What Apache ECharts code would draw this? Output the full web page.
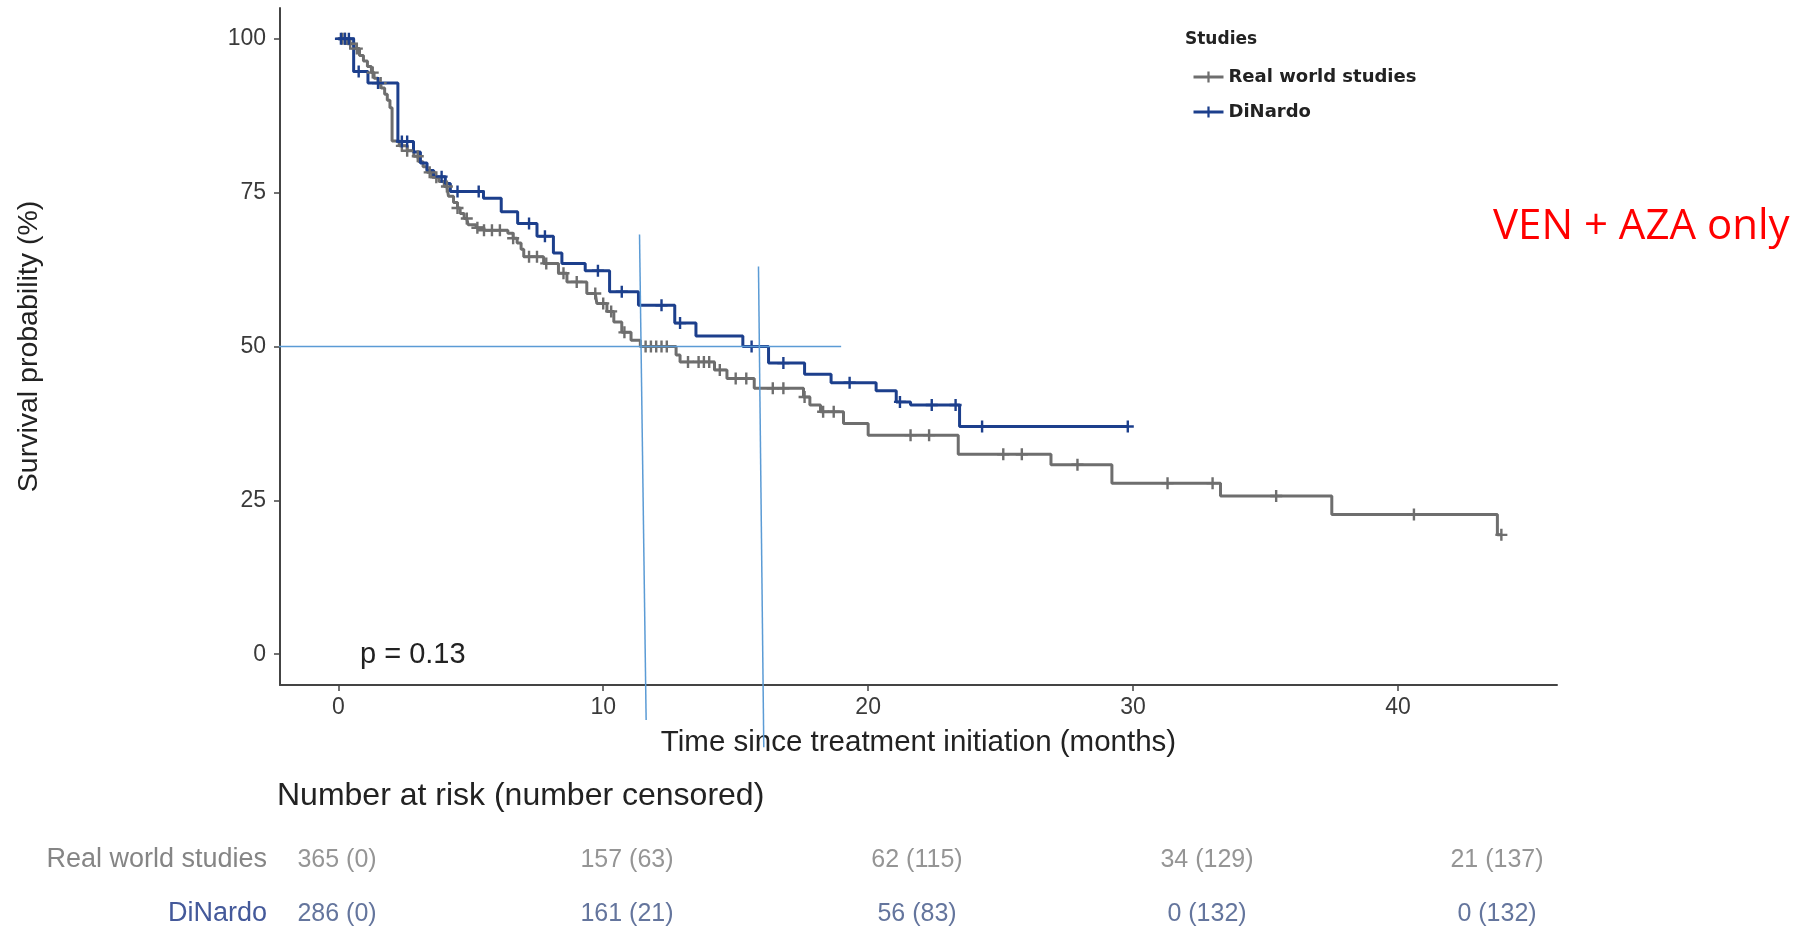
<!DOCTYPE html>
<html>
<head>
<meta charset="utf-8">
<title>VEN + AZA only</title>
<script src="https://cdn.jsdelivr.net/npm/echarts@6/dist/echarts.min.js"></script>
<style>
  html, body { margin: 0; padding: 0; background: #fff; }
  #chart { width: 1807px; height: 932px; }
</style>
</head>
<body>
<div id="chart"></div>
<script>
  // Real world studies: event times (months) and survival (%) after each event
  var rwTimes = [0, 0.35, 0.6, 0.8, 0.95, 1.1, 1.25, 1.35, 1.5, 1.62, 1.75, 1.85, 1.95, 2.03, 2.3, 2.6, 2.85, 3.05, 3.2, 3.35, 3.55, 3.8, 4.0, 4.16, 4.35, 4.5, 4.6, 4.75, 4.9, 5.2, 5.5, 6.4, 6.6, 6.75, 6.9, 7.0, 7.75, 8.31, 8.63, 9.38, 9.76, 10.14, 10.4, 10.7, 11.05, 11.4, 12.75, 12.9, 14.2, 14.67, 15.7, 17.56, 17.8, 18.2, 19.07, 20.0, 23.4, 26.9, 29.2, 33.3, 37.5, 43.75];
  var rwSurv = [100, 99.2, 98.4, 97.3, 96.4, 95.5, 94.5, 93.6, 92.8, 92.0, 91.0, 90.0, 88.8, 83.4, 82.6, 81.8, 80.9, 80.0, 79.2, 78.3, 77.5, 76.8, 76.0, 74.4, 73.4, 72.5, 71.6, 70.8, 69.8, 69.3, 68.9, 68.4, 67.6, 66.8, 65.8, 64.6, 63.5, 61.9, 60.5, 58.6, 57.0, 55.7, 54.0, 52.3, 51.0, 50.0, 48.6, 47.5, 46.2, 44.8, 43.2, 41.8, 40.5, 39.4, 37.5, 35.6, 32.5, 30.8, 27.8, 25.7, 22.7, 19.4];
  var rwCensor = [0.15, 0.25, 0.45, 0.7, 1.3, 1.6, 2.4, 2.6, 3.0, 3.45, 3.7, 4.1, 4.5, 4.85, 5.25, 5.5, 5.8, 6.1, 6.6, 7.2, 7.5, 7.85, 8.5, 9.0, 9.7, 10.0, 10.3, 10.8, 11.6, 11.8, 12.0, 12.2, 12.4, 13.2, 13.6, 13.8, 14.0, 14.4, 15.0, 15.4, 16.4, 16.8, 17.6, 18.3, 18.7, 21.6, 22.3, 25.1, 25.8, 27.9, 31.3, 33.0, 35.4, 40.6, 43.9];

  // DiNardo
  var dnTimes = [0, 0.58, 1.12, 2.25, 2.84, 3.1, 3.35, 3.6, 4.04, 4.23, 5.48, 6.15, 6.77, 7.5, 8.12, 8.44, 9.32, 10.24, 11.33, 12.7, 13.5, 15.27, 16.24, 17.6, 18.6, 20.3, 21.06, 21.6, 23.45];
  var dnSurv = [100, 94.7, 92.8, 83.3, 81.6, 79.8, 78.6, 77.6, 76.5, 75.2, 74.1, 71.9, 70.0, 67.9, 65.2, 63.5, 62.3, 58.9, 56.7, 53.8, 51.7, 50.0, 47.3, 45.5, 44.1, 42.8, 41.0, 40.5, 37.0];
  var dnCensor = [0.1, 0.25, 0.4, 0.77, 1.5, 2.4, 2.6, 3.9, 4.5, 5.3, 7.2, 7.8, 9.8, 10.7, 12.2, 12.9, 15.6, 16.8, 19.3, 21.2, 22.4, 23.3, 24.3, 29.8];

  // axis ticks
  var xTicks = [0, 10, 20, 30, 40];
  var yTicks = [0, 25, 50, 75, 100];

  // number at risk table
  var riskRows = ['Real world studies', 'DiNardo'];
  var riskTimes = [0, 10, 20, 30, 40];
  var rwAtRisk = [365, 157, 62, 34, 21];
  var rwCensored = [0, 63, 115, 129, 137];
  var dnAtRisk = [286, 161, 56, 0, 0];
  var dnCensored = [0, 21, 83, 132, 132];

  // hand-drawn median guide lines (data coords)
  var guideH = [[-3.96, 50], [18.98, 50]];
  var guideV1 = [[11.37, 68.2], [11.62, -10.7]];
  var guideV2 = [[15.86, 63.0], [16.06, -15.1]];

  var FONT = '"Liberation Sans", Arial, sans-serif';
  var grayCol = '#6e6e6e';
  var blueCol = '#1c3f8c';
  var plus = 'path://M4,0H6V4H10V6H6V10H4V6H0V4H4Z';

  // events + censor marks merged into one step line
  function kmData(times, surv, censor) {
    var pts = times.map(function (t, i) {
      return { value: [t, surv[i]], symbol: 'none' };
    });
    censor.forEach(function (c) {
      var s = surv[0];
      for (var i = 0; i < times.length; i++) {
        if (times[i] <= c) s = surv[i];
      }
      pts.push({ value: [c, s] });
    });
    pts.sort(function (a, b) {
      return a.value[0] - b.value[0] || (a.symbol ? -1 : 1);
    });
    return pts;
  }

  function guide(data) {
    return {
      type: 'line', xAxisIndex: 0, yAxisIndex: 0, data: data,
      symbol: 'none', clip: false, silent: true, z: 4,
      lineStyle: { color: '#5b9bd5', width: 1.5 }
    };
  }

  function riskSeries(row, atRisk, cens, color) {
    return {
      type: 'scatter', xAxisIndex: 1, yAxisIndex: 1,
      symbolSize: 1, itemStyle: { color: 'rgba(0,0,0,0)' }, silent: true,
      data: riskTimes.map(function (t) { return [t, row]; }),
      label: {
        show: true, position: 'inside', fontSize: 25, fontFamily: FONT, color: color,
        formatter: function (p) { return atRisk[p.dataIndex] + ' (' + cens[p.dataIndex] + ')'; }
      }
    };
  }

  var chart = echarts.init(document.getElementById('chart'));
  var option = {
    animation: false,
    backgroundColor: '#fff',
    grid: [
      { left: 280, top: 8, width: 1277, height: 677, outerBoundsMode: 'none' },
      { left: 337, right: 310, top: 833, height: 108, outerBoundsMode: 'none' }
    ],
    legend: {
      data: ['Real world studies', 'DiNardo'],
      orient: 'vertical', left: 1187, top: 63,
      itemWidth: 30, itemHeight: 14, itemGap: 17,
      selectedMode: false,
      lineStyle: { width: 3 },
      textStyle: { fontFamily: '"DejaVu Sans", sans-serif', fontWeight: 'bold', fontSize: 18, color: '#222' }
    },
    xAxis: [{
      type: 'value', gridIndex: 0, min: -2.2, max: 46,
      name: 'Time since treatment initiation (months)', nameLocation: 'middle', nameGap: 43,
      nameTextStyle: { fontSize: 29.5, color: '#222', fontFamily: FONT },
      axisLine: { onZero: false, lineStyle: { color: '#444', width: 2 } },
      axisTick: { customValues: xTicks, length: 6, lineStyle: { color: '#444', width: 1.5 } },
      axisLabel: { customValues: xTicks, fontSize: 23, color: '#3a3a3a', margin: 11, fontFamily: FONT },
      splitLine: { show: false }
    }, {
      type: 'value', gridIndex: 1, min: 0, max: 40, show: false
    }],
    yAxis: [{
      type: 'value', gridIndex: 0, min: -5, max: 105,
      name: 'Survival probability (%)', nameLocation: 'middle', nameGap: 236, nameRotate: 90,
      nameTextStyle: { fontSize: 28.5, color: '#222', fontFamily: FONT },
      axisLine: { show: true, onZero: false, lineStyle: { color: '#444', width: 2 } },
      axisTick: { show: true, customValues: yTicks, length: 6, lineStyle: { color: '#444', width: 1.5 } },
      axisLabel: { customValues: yTicks, fontSize: 23, color: '#3a3a3a', margin: 14, fontFamily: FONT },
      splitLine: { show: false }
    }, {
      type: 'category', gridIndex: 1, data: riskRows, inverse: true,
      axisLine: { show: false }, axisTick: { show: false },
      axisLabel: {
        margin: 70, fontSize: 27, fontFamily: FONT,
        color: function (v, i) { return i === 0 ? '#858585' : '#44599a'; }
      },
      splitLine: { show: false }
    }],
    graphic: [
      { type: 'text', x: 1185, y: 40, style: { text: 'Studies', verticalAlign: 'middle', fontSize: 17, fontWeight: 'bold', fontFamily: '"DejaVu Sans", sans-serif', fill: '#222' } },
      { type: 'text', x: 360, y: 655, style: { text: 'p = 0.13', verticalAlign: 'middle', fontSize: 29, fontFamily: FONT, fill: '#222' } },
      { type: 'text', x: 1493, y: 227, style: { text: 'VEN + AZA only', verticalAlign: 'middle', fontSize: 42, fontFamily: '"Open Sans", sans-serif', fill: '#ff0000' } },
      { type: 'text', x: 277, y: 796, style: { text: 'Number at risk (number censored)', verticalAlign: 'middle', fontSize: 32, fontFamily: FONT, fill: '#222' } }
    ],
    series: [
      {
        name: 'Real world studies', type: 'line', step: 'end',
        data: kmData(rwTimes, rwSurv, rwCensor),
        symbol: plus, symbolSize: 12, showSymbol: true,
        itemStyle: { color: grayCol }, lineStyle: { color: grayCol, width: 3 }
      },
      {
        name: 'DiNardo', type: 'line', step: 'end',
        data: kmData(dnTimes, dnSurv, dnCensor),
        symbol: plus, symbolSize: 12, showSymbol: true,
        itemStyle: { color: blueCol }, lineStyle: { color: blueCol, width: 3 }
      },
      guide(guideH),
      guide(guideV1),
      guide(guideV2),
      riskSeries(0, rwAtRisk, rwCensored, '#7a7a7a'),
      riskSeries(1, dnAtRisk, dnCensored, '#3d5384')
    ]
  };
  chart.setOption(option);
</script>
</body>
</html>
